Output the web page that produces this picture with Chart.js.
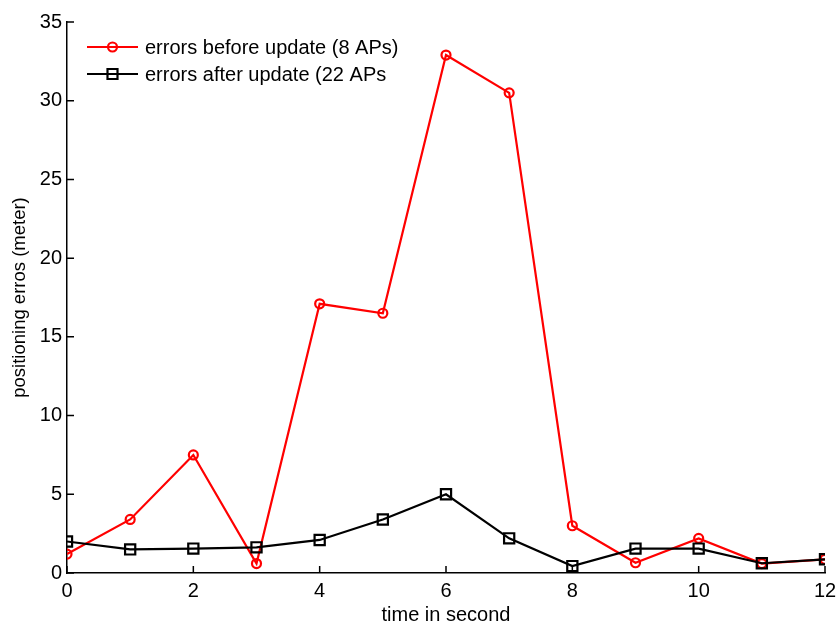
<!DOCTYPE html>
<html>
<head>
<meta charset="utf-8">
<script src="https://cdn.jsdelivr.net/npm/chart.js@4/dist/chart.umd.min.js"></script>
<style>
html,body{margin:0;padding:0;background:#fff;}
#wrap{width:837px;height:624px;position:relative;}
</style>
</head>
<body>
<div id="wrap"><canvas id="c" width="837" height="624"></canvas></div>
<script>
const timeSeconds = [0,1,2,3,4,5,6,7,8,9,10,11,12];
const errorsBefore = [1.2,3.4,7.5,0.6,17.1,16.5,32.9,30.5,3.0,0.65,2.2,0.6,0.87];
const errorsAfter = [2.0,1.5,1.55,1.63,2.1,3.4,5.0,2.2,0.44,1.55,1.55,0.62,0.87];
const seriesLabels = ['errors before update (8 APs)','errors after update (22 APs'];
const xTicks = [0,2,4,6,8,10,12];
const yTicks = [0,5,10,15,20,25,30,35];
const FONT = 'Liberation Sans, Arial, sans-serif';

const toXY = (xs, ys) => xs.map((x,i)=>({x:x,y:ys[i]}));

const inwardTicks = {
  id:'inwardTicks',
  afterDatasetsDraw(chart){
    const ctx = chart.ctx, a = chart.chartArea;
    const xs = chart.scales.x, ys = chart.scales.y;
    ctx.save();
    ctx.strokeStyle = '#000'; ctx.lineWidth = 1.5;
    ctx.beginPath();
    xTicks.forEach(v=>{const p = xs.getPixelForValue(v); ctx.moveTo(p,a.bottom); ctx.lineTo(p,a.bottom-7);});
    yTicks.forEach(v=>{const p = ys.getPixelForValue(v); ctx.moveTo(a.left,p); ctx.lineTo(a.left+7,p);});
    ctx.stroke();
    ctx.restore();
  }
};

const customLegend = {
  id:'customLegend',
  afterDraw(chart){
    const ctx = chart.ctx;
    const items = [
      {label:seriesLabels[0], color:'#ff0000', style:'circle', y:47},
      {label:seriesLabels[1], color:'#000000', style:'rect', y:74}
    ];
    ctx.save();
    items.forEach(it=>{
      ctx.strokeStyle = it.color; ctx.lineWidth = 2.2;
      ctx.beginPath(); ctx.moveTo(87,it.y); ctx.lineTo(138,it.y); ctx.stroke();
      ctx.beginPath();
      if(it.style==='circle'){ ctx.arc(112.5,it.y,4.5,0,Math.PI*2); }
      else { ctx.rect(107.5,it.y-5,10,10); }
      ctx.stroke();
      ctx.fillStyle = '#000';
      ctx.font = '20px ' + FONT;
      ctx.textBaseline = 'middle'; ctx.textAlign = 'left';
      ctx.fillText(it.label, 145, it.y + 1);
    });
    ctx.restore();
  }
};

new Chart(document.getElementById('c'), {
  type:'line',
  data:{
    datasets:[
      {label:seriesLabels[0], order:1, data:toXY(timeSeconds,errorsBefore), borderColor:'#ff0000', backgroundColor:'rgba(0,0,0,0)',
       borderWidth:2.2, pointStyle:'circle', pointRadius:4.5, pointBorderWidth:2.2, pointBorderColor:'#ff0000', pointBackgroundColor:'rgba(0,0,0,0)', tension:0},
      {label:seriesLabels[1], order:0, data:toXY(timeSeconds,errorsAfter), borderColor:'#000000', backgroundColor:'rgba(0,0,0,0)',
       borderWidth:2.2, pointStyle:'rect', pointRadius:7.2, pointBorderWidth:2.2, pointBorderColor:'#000000', pointBackgroundColor:'rgba(0,0,0,0)', tension:0}
    ]
  },
  options:{
    responsive:false, animation:false, devicePixelRatio:1,
    layout:{padding:{left:0,right:12,top:22,bottom:0}},
    plugins:{legend:{display:false}, tooltip:{enabled:false}},
    scales:{
      x:{type:'linear', min:0, max:12,
         afterBuildTicks: s => { s.ticks = xTicks.map(v=>({value:v})); },
         afterFit: s => { s.height = 51; s.paddingRight = 0; s.paddingLeft = 0; },
         grid:{display:false, drawTicks:false},
         border:{display:true, color:'#000', width:1.5},
         ticks:{color:'#000', font:{family:FONT, size:20}, padding:6, maxRotation:0},
         title:{display:true, text:'time in second', color:'#000', font:{family:FONT, size:20}, padding:{top:0,bottom:-3}}
      },
      y:{type:'linear', min:0, max:35,
         afterBuildTicks: s => { s.ticks = yTicks.map(v=>({value:v})); },
         afterFit: s => { s.width = 67; s.paddingTop = 0; s.paddingBottom = 0; },
         grid:{display:false, drawTicks:false},
         border:{display:true, color:'#000', width:1.5},
         ticks:{color:'#000', font:{family:FONT, size:20}, padding:5},
         title:{display:true, text:'positioning erros (meter)', color:'#000', font:{family:FONT, size:18.5}, padding:{top:9,bottom:4}}
      }
    }
  },
  plugins:[inwardTicks, customLegend]
});
</script>
</body>
</html>
